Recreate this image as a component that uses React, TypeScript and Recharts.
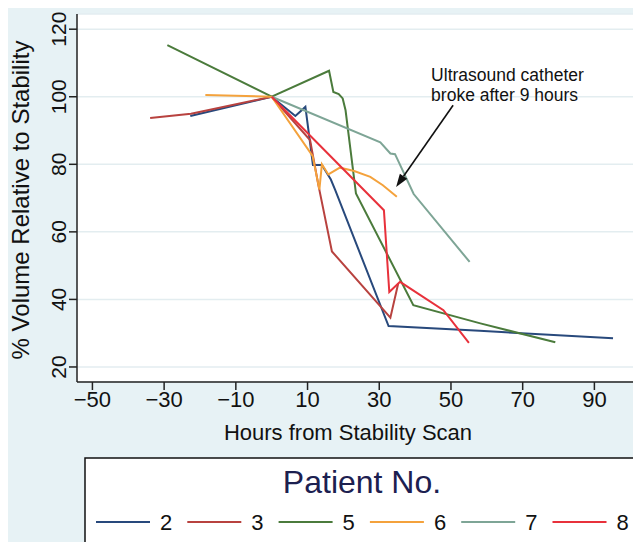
import { LineChart, Line, XAxis, YAxis, CartesianGrid, ReferenceLine, Label } from 'recharts';

const patients = ['2', '3', '5', '6', '7', '8'];
const colors = ['#28497c', '#b8423f', '#4b7b3c', '#f4a23c', '#7ea596', '#e8313b'];

// [hours, % volume]
const patient2 = [
  [-22.7, 94.3], [0, 100], [6.6, 94.3], [9.4, 97], [11.5, 79.8], [14, 79.8], [16.5, 75.5],
  [17.7, 72.4], [32.6, 32.1], [58, 30.7], [95.2, 28.5],
];
const patient3 = [
  [-33.9, 93.7], [-22.5, 95], [0, 100], [10.7, 87.2], [13, 74], [16.8, 54.2], [33.1, 34.6], [35.3, 44.8],
];
const patient5 = [
  [-29.1, 115.3], [0, 100], [16, 107.7], [17.2, 101.4], [18.7, 100.8], [19.8, 99.5], [20.6, 96],
  [23.5, 71.4], [39.5, 38.3], [58.2, 32.9], [79.1, 27.3],
];
const patient6 = [
  [-18.5, 100.5], [0, 100], [11.4, 82.5], [13.3, 72.5], [14, 80], [15.8, 77], [19, 79], [23, 78],
  [27.5, 76.3], [31, 73.8], [34.9, 70.4],
];
const patient7 = [
  [0, 100], [30.3, 86.5], [33.1, 83.2], [34.4, 83], [39.6, 71.2], [55.2, 51.1],
];
const patient8 = [
  [0, 100], [31.3, 66.4], [32.8, 42.2], [35.8, 45.2], [47.9, 36.8], [55, 27.1],
];

const xTicks = [-50, -30, -10, 10, 30, 50, 70, 90];
const yTicks = [20, 40, 60, 80, 100, 120];

const series = [patient2, patient3, patient5, patient6, patient7, patient8].map((pts) =>
  pts.map(([x, y]) => ({ x, y }))
);

const FONT = '"Liberation Sans", Arial, sans-serif';
const AXIS = '#222';

const YTick = ({ x, y, payload }: any) => (
  <text
    x={0}
    y={0}
    transform={`translate(${x},${y}) rotate(-90)`}
    textAnchor="middle"
    fontSize={21}
    fontFamily={FONT}
    fill="#111"
  >
    {payload.value}
  </text>
);

const XTick = ({ x, y, payload }: any) => (
  <text x={x} y={y + 17} textAnchor="middle" fontSize={22} fontFamily={FONT} fill="#111">
    {payload.value < 0 ? `\u2212${Math.abs(payload.value)}` : payload.value}
  </text>
);

const Arrow = (props: any) => {
  const { x1, y1, x2, y2 } = props;
  const ang = Math.atan2(y2 - y1, x2 - x1);
  const len = 13;
  const hw = 4.5;
  const bx = x2 - len * Math.cos(ang);
  const by = y2 - len * Math.sin(ang);
  const px = -Math.sin(ang) * hw;
  const py = Math.cos(ang) * hw;
  return (
    <g>
      <line x1={x1} y1={y1} x2={bx} y2={by} stroke="#111" strokeWidth={1.6} />
      <polygon points={`${x2},${y2} ${bx + px},${by + py} ${bx - px},${by - py}`} fill="#111" />
      <text x={x1 - 22} y={y1 - 24} fontSize={17.5} fontFamily={FONT} fill="#111">
        Ultrasound catheter
      </text>
      <text x={x1 - 22} y={y1 - 4} fontSize={17.5} fontFamily={FONT} fill="#111">
        broke after 9 hours
      </text>
    </g>
  );
};

function PatientLegend() {
  return (
    <svg width={633} height={534} style={{ position: 'absolute', left: 0, top: 0, pointerEvents: 'none' }}>
      <rect x={77} y={450} width={552} height={120} fill="#fff" stroke="#111" strokeWidth={1.5} />
      <text x={354} y={485} textAnchor="middle" fontSize={32} fontFamily={FONT} fill="#1c2050">
        Patient No.
      </text>
      {patients.map((p, i) => {
        const x0 = 88 + i * 91.3;
        return (
          <g key={p}>
            <line x1={x0} y1={514} x2={x0 + 54} y2={514} stroke={colors[i]} strokeWidth={2} />
            <text x={x0 + 64} y={522} fontSize={22} fontFamily={FONT} fill="#111">
              {p}
            </text>
          </g>
        );
      })}
    </svg>
  );
}

export default function App() {
  return (
    <div style={{ position: 'relative', width: 633, height: 534, background: '#e7f2f5', overflow: 'hidden' }}>
      <LineChart width={633} height={534} margin={{ top: 6, right: 0, bottom: 100, left: 0 }}>
        <CartesianGrid vertical={false} fill="#ffffff" stroke="#e3edf0" strokeWidth={1.5} />
        <XAxis
          type="number"
          dataKey="x"
          domain={[-54.3, 103]}
          ticks={xTicks}
          allowDataOverflow
          height={60}
          tick={<XTick />}
          tickSize={8}
          tickMargin={0}
          stroke={AXIS}
          strokeWidth={1.5}
          tickLine={{ stroke: AXIS, strokeWidth: 1.5 }}
        >
          <Label
            content={({ viewBox }: any) => (
              <text x={340} y={viewBox.y + 58} textAnchor="middle" fontSize={22} fontFamily={FONT} fill="#111">
                Hours from Stability Scan
              </text>
            )}
          />
        </XAxis>
        <YAxis
          type="number"
          dataKey="y"
          domain={[15.55, 124.5]}
          ticks={yTicks}
          allowDataOverflow
          width={69}
          tick={<YTick />}
          tickSize={8}
          tickMargin={3}
          stroke={AXIS}
          strokeWidth={1.5}
          tickLine={{ stroke: AXIS, strokeWidth: 1.5 }}
        >
          <Label
            content={() => (
              <text
                x={0}
                y={0}
                transform="translate(21,192) rotate(-90)"
                textAnchor="middle"
                fontSize={24}
                fontFamily={FONT}
                fill="#111"
              >
                % Volume Relative to Stability
              </text>
            )}
          />
        </YAxis>
        {series.map((d, i) => (
          <Line
            key={patients[i]}
            data={d}
            dataKey="y"
            name={patients[i]}
            stroke={colors[i]}
            strokeWidth={2}
            dot={false}
            activeDot={false}
            isAnimationActive={false}
          />
        ))}
        <ReferenceLine
          segment={[{ x: 50.6, y: 97.5 }, { x: 34.7, y: 73.3 }]}
          ifOverflow="visible"
          shape={<Arrow />}
        />
      </LineChart>
      <PatientLegend />
    </div>
  );
}
